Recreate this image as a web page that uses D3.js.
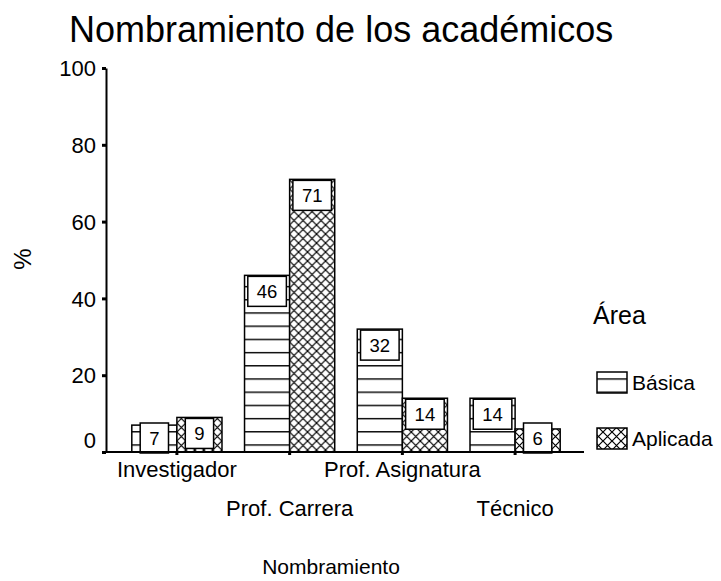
<!DOCTYPE html>
<html>
<head>
<meta charset="utf-8">
<script src="https://cdn.jsdelivr.net/npm/d3@7"></script>
<style>
  html, body { margin: 0; padding: 0; background: #fff; }
  svg { display: block; font-family: "Liberation Sans", Arial, sans-serif; }
</style>
</head>
<body>
<svg id="chart" width="721" height="581"></svg>
<script>
// Appointment categories and percentage per area
const categories = ["Investigador", "Prof. Carrera", "Prof. Asignatura", "Técnico"];
const seriesNames = ["Básica", "Aplicada"];
const basicaValues = [7, 46, 32, 14];
const aplicadaValues = [9, 71, 14, 6];
const yTickValues = [0, 20, 40, 60, 80, 100];

const svg = d3.select("#chart");
svg.append("rect").attr("width", 721).attr("height", 581).attr("fill", "#fff");

// Fill patterns: horizontal lines for Básica, cross-hatch for Aplicada
const defs = svg.append("defs");
const hl = defs.append("pattern")
  .attr("id", "pat-basica").attr("patternUnits", "userSpaceOnUse")
  .attr("x", 0).attr("y", 8.7).attr("width", 10).attr("height", 13.2);
hl.append("rect").attr("width", 10).attr("height", 13.2).attr("fill", "#fff");
hl.append("rect").attr("width", 10).attr("height", 1.4).attr("fill", "#000");

const P = 9;
const xh = defs.append("pattern")
  .attr("id", "pat-aplicada").attr("patternUnits", "userSpaceOnUse")
  .attr("x", 0).attr("y", 0).attr("width", P).attr("height", P);
xh.append("rect").attr("width", P).attr("height", P).attr("fill", "#fff");
xh.append("path")
  .attr("d", `M${-P},${-P}L${2 * P},${2 * P}M${2 * P},${-P}L${-P},${2 * P}`)
  .attr("stroke", "#000").attr("stroke-width", 1.2).attr("fill", "none");

const fills = { "Básica": "url(#pat-basica)", "Aplicada": "url(#pat-aplicada)" };

// Scales
const x0 = d3.scaleBand().domain(categories).range([107, 585])
  .paddingInner(0.2).paddingOuter(0.22);
const x1 = d3.scaleBand().domain(seriesNames).range([0, x0.bandwidth()]);
const y = d3.scaleLinear().domain([0, 100]).range([452, 68]);

const rows = categories.map((c, i) => ({
  cat: c,
  vals: [
    { s: "Básica", v: basicaValues[i] },
    { s: "Aplicada", v: aplicadaValues[i] }
  ]
}));

// Title
svg.append("text").attr("x", 69).attr("y", 42)
  .attr("font-size", 36).attr("fill", "#000")
  .text("Nombramiento de los académicos");

// Bars
const groups = svg.append("g").selectAll("g").data(rows).join("g")
  .attr("transform", d => `translate(${x0(d.cat)},0)`);

groups.selectAll("rect.bar").data(d => d.vals).join("rect")
  .attr("class", "bar")
  .attr("x", d => x1(d.s))
  .attr("y", d => y(d.v))
  .attr("width", x1.bandwidth())
  .attr("height", d => y(0) - y(d.v))
  .attr("fill", d => fills[d.s])
  .attr("stroke", "#000").attr("stroke-width", 1.5);

// Value labels in white boxes
groups.each(function (d) {
  const g = d3.select(this);
  d.vals.forEach(item => {
    const cx = x1(item.s) + x1.bandwidth() / 2;
    const cy = Math.min(y(item.v) + 16, 438);
    const lg = g.append("g");
    const box = lg.append("rect");
    const t = lg.append("text")
      .attr("x", cx).attr("y", cy)
      .attr("text-anchor", "middle").attr("dominant-baseline", "central")
      .attr("font-size", 18.5).attr("fill", "#000")
      .text(item.v);
    const w = t.node().getComputedTextLength() + 18;
    box.attr("x", cx - w / 2).attr("y", cy - 15)
      .attr("width", w).attr("height", 30)
      .attr("fill", "#fff").attr("stroke", "#000").attr("stroke-width", 1.5);
  });
});

// Y axis
const yAxis = svg.append("g").attr("transform", "translate(106,0)")
  .call(d3.axisLeft(y).tickValues(yTickValues).tickSize(4).tickSizeOuter(0).tickPadding(6));
yAxis.select(".domain").attr("stroke", "#000").attr("stroke-width", 2);
yAxis.selectAll(".tick line").attr("stroke", "#000").attr("stroke-width", 3);
yAxis.selectAll(".tick text")
  .attr("font-size", 22).attr("font-family", null).attr("fill", "#000")
  .attr("dy", v => v === 0 ? "-0.22em" : "0.35em");

// X axis
const xAxis = svg.append("g").attr("transform", "translate(0,452)")
  .call(d3.axisBottom(x0).tickSize(3).tickSizeOuter(0));
xAxis.select(".domain").attr("d", "M106,0H584").attr("stroke", "#000").attr("stroke-width", 2);
xAxis.selectAll(".tick line").attr("stroke", "#000").attr("stroke-width", 3);
xAxis.selectAll(".tick text")
  .attr("font-size", 22).attr("font-family", null).attr("fill", "#000")
  .attr("y", (d, i) => i % 2 === 0 ? 9 : 48);

// Axis titles
svg.append("text")
  .attr("transform", "translate(22,259) rotate(-90)")
  .attr("text-anchor", "middle").attr("dominant-baseline", "central")
  .attr("font-size", 24).attr("fill", "#000").text("%");

svg.append("text").attr("x", 331).attr("y", 574)
  .attr("text-anchor", "middle").attr("font-size", 21).attr("fill", "#000")
  .text("Nombramiento");

// Legend
const legend = svg.append("g");
legend.append("text").attr("x", 593).attr("y", 324)
  .attr("font-size", 25).attr("fill", "#000").text("Área");
const legendY = [372, 428];
seriesNames.forEach((s, i) => {
  legend.append("rect").attr("x", 597).attr("y", legendY[i])
    .attr("width", 30).attr("height", 21)
    .attr("fill", fills[s]).attr("stroke", "#000").attr("stroke-width", 1.5);
  legend.append("text").attr("x", 632).attr("y", legendY[i] + 18)
    .attr("font-size", 21).attr("fill", "#000").text(s);
});
</script>
</body>
</html>
